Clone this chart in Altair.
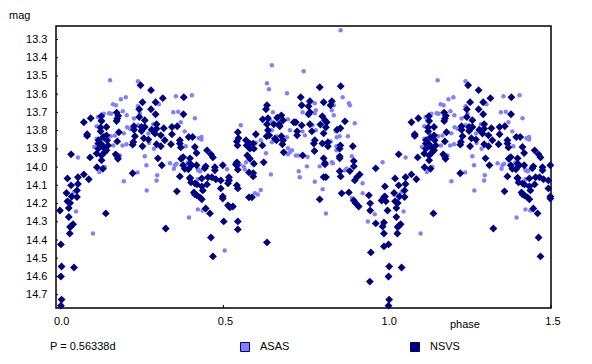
import altair as alt
import pandas as pd

FONT = "Liberation Sans"
W, H = 495, 282

# (phase, magnitude) for one folded cycle; phases up to 0.5 recur at phase + 1
nsvs = [
(.074,13.754),(.095,13.732),(.127,13.721),(.128,13.747),(.143,13.780),(.125,13.783),(.125,13.804),(.084,13.820),(.084,13.829),
(.119,13.853),(.133,13.835),(.143,13.826),(.145,13.853),(.118,13.871),(.128,13.875),(.148,13.881),(.118,13.899),(.133,13.890),
(.143,13.908),(.113,13.926),(.128,13.936),(.138,13.917),(.128,13.963),(.171,13.930),(.176,13.941),(.178,13.954),(.035,13.930),
(.093,13.947),(.114,14.001),(.132,14.009),(.024,14.062),(.056,14.056),(.074,14.040),(.089,14.067),(.174,13.701),(.179,13.719),
(.176,13.734),(.174,13.747),(.243,13.683),(.253,13.644),(.247,13.551),(.279,13.578),(.293,13.644),(.315,13.622),(.279,13.683),
(.293,13.710),(.243,13.725),(.260,13.743),(.296,13.765),(.176,13.859),(.181,13.809),(.227,13.776),(.227,13.795),(.250,13.780),
(.260,13.780),(.250,13.802),(.257,13.842),(.230,13.831),(.225,13.862),(.223,13.877),(.253,13.886),(.271,13.849),(.281,13.795),
(.296,13.789),(.291,13.816),(.309,13.826),(.318,13.787),(.343,13.780),(.359,13.776),(.343,13.820),(.321,13.853),(.296,13.875),
(.309,13.886),(.340,13.875),(.300,13.952),(.312,13.990),(.223,14.034),(.367,14.051),(.367,13.853),(.367,13.871),(.394,13.835),
(.406,13.835),(.413,13.890),(.371,13.954),(.377,13.945),(.398,13.952),(.418,13.923),(.378,13.710),(.379,13.617),(.377,13.990),
(.382,14.009),(.398,13.981),(.403,13.990),(.418,13.990),(.393,14.012),(.398,14.058),
(.001,14.238),(.021,14.142),(.037,14.161),(.053,14.164),(.053,14.128),(.056,14.093),(.035,14.100),(.024,14.188),(.032,14.197),
(.028,14.225),(.028,14.274),(.041,14.313),(.035,14.324),(.032,14.329),(.031,14.364),(.004,14.424),(.006,14.545),(.044,14.551),
(.004,14.600),(.006,14.727),(.004,14.760),(.141,14.254),(.324,14.337),(.358,14.133),(.450,13.908),(.462,13.930),(.468,13.947),
(.446,13.996),(.443,14.007),(.474,14.001),(.474,14.018),(.498,13.990),(.538,13.985),(.398,14.062),(.401,14.084),(.413,14.089),
(.419,14.095),(.434,14.062),(.453,14.056),(.465,14.056),(.477,14.067),(.492,14.073),(.517,14.056),(.517,14.073),(.514,14.089),
(.450,14.095),(.434,14.106),(.437,14.128),(.492,14.117),(.410,14.139),(.413,14.150),(.419,14.155),(.428,14.166),(.434,14.177),
(.498,14.161),(.498,14.172),(.514,14.210),(.520,14.221),(.529,14.216),(.446,14.227),(.459,14.254),(.501,14.298),(.462,14.386),
(.468,14.490),(.370,13.892),(.544,14.298),(.544,14.342),(.633,14.413),
(.541,13.974),(.541,13.990),(.544,14.014),(.544,13.809),(.546,13.842),(.541,13.859),(.543,13.881),(.599,13.820),(.569,13.853),
(.571,13.881),(.581,13.871),(.591,13.871),(.581,13.899),(.593,13.899),(.573,13.936),(.581,13.954),(.593,13.981),(.619,13.881),
(.623,13.974),(.578,14.029),(.591,14.033),(.591,14.051),(.630,13.683),(.633,13.661),(.620,13.738),(.636,13.732),(.633,13.765),
(.636,13.798),(.632,13.831),(.640,13.826),(.654,13.765),(.664,13.729),(.677,13.716),(.670,13.765),(.682,13.743),(.672,13.776),
(.657,13.844),(.662,13.853),(.677,13.831),(.682,13.853),(.680,13.875),(.684,13.919),(.715,13.754),(.721,13.754),(.739,13.771),
(.725,13.804),(.725,13.826),(.736,13.617),(.739,13.661),(.764,13.639),(.760,13.666),(.764,13.699),(.760,13.710),(.764,13.765),
(.770,13.804),(.779,13.853),(.776,13.871),(.778,13.912),(.742,13.936),(.806,13.644),(.794,13.562),(.858,13.556),(.831,13.639),
(.827,13.661),(.802,13.721),(.810,13.743),(.796,13.767),(.815,13.754),(.813,13.782),(.806,13.815),(.802,13.870),(.819,13.864),
(.819,13.886),(.871,13.749),(.857,13.787),(.847,13.795),(.857,13.881),(.855,13.899),(.855,13.941),(.855,13.952),(.806,13.952),
(.810,13.978),(.810,13.985),(.895,13.886),(.898,13.967),(.898,13.996),(.855,14.023),(.886,14.022),(.858,14.051),(.806,14.055),
(.813,14.055),(.916,14.040),(.908,14.055),(.901,14.073),(.965,14.007),
(.541,14.100),(.544,14.117),(.578,14.166),(.587,14.166),(.794,14.177),(.861,14.144),(.883,14.139),(.944,14.155),(.898,14.183),
(.904,14.199),(.913,14.216),(.948,14.199),(.948,14.238),(.993,14.106),(.993,14.161),(.983,14.183),(.996,14.188),(.990,14.304),
(.986,14.326),(.990,14.364),(.965,14.309),(.990,14.435),(.950,14.468),(.947,14.628),(.990,14.165),
]

asas = [
(.154,13.523),(.239,13.529),(.355,13.611),(.404,13.606),(.202,13.617),(.187,13.628),(.163,13.655),(.172,13.661),(.193,13.694),
(.205,13.716),(.239,13.666),(.245,13.707),(.151,13.705),(.135,13.707),(.157,13.707),(.117,13.725),(.113,13.776),(.123,13.783),
(.169,13.827),(.196,13.815),(.206,13.782),(.215,13.789),(.227,13.734),(.240,13.771),(.192,13.881),(.204,13.875),(.164,13.881),
(.106,13.890),(.113,13.844),(.056,13.947),(.260,13.941),(.265,13.990),(.121,14.027),(.138,14.000),(.238,14.029),(.196,14.078),
(.298,14.045),(.296,14.073),(.337,13.979),(.349,14.009),(.352,13.990),(.362,13.697),(.347,13.699),(.382,13.804),(.370,13.754),
(.413,13.732),(.425,13.842),(.271,13.816),(.273,13.868),(.288,13.899),(.303,13.655),(.286,13.765),(.247,13.798),(.357,13.981),
(.423,14.018),(.123,13.743),(.156,13.831),(.050,14.243),(.102,14.364),(.266,14.128),(.395,14.276),(.422,14.232),(.437,14.238),
(.504,14.457),(.511,14.012),(.538,13.990),(.428,14.023),(.422,14.012),(.422,14.067),(.440,14.128),(.044,14.137),(.184,13.936),
(.385,13.886),(.391,13.975),
(.648,13.441),(.745,13.474),(.858,13.249),(.633,13.540),(.639,13.573),(.694,13.595),(.864,13.617),(.883,13.650),(.886,13.661),
(.779,13.650),(.782,13.688),(.779,13.705),(.742,13.699),(.651,13.699),(.831,13.688),(.837,13.716),(.837,13.661),(.553,13.771),
(.645,13.749),(.697,13.738),(.703,13.798),(.648,13.798),(.901,13.760),(.880,13.831),(.855,13.831),(.846,13.836),(.843,13.804),
(.772,13.771),(.782,13.798),(.741,13.804),(.749,13.826),(.694,13.836),(.614,13.853),(.648,13.864),(.662,13.831),(.828,13.859),
(.845,13.886),(.845,13.908),(.892,13.941),(.986,13.974),(.697,13.897),(.709,13.908),(.703,13.919),(.697,13.930),(.630,13.924),
(.721,13.936),(.728,13.936),(.755,13.996),(.794,13.996),(.831,13.974),(.834,13.979),(.730,14.023),(.733,14.056),(.645,14.040),
(.569,13.974),(.562,13.996),(.565,14.012),(.550,13.985),(.433,13.835),(.433,13.849),(.430,14.021),(.876,14.009),(.871,14.018),
(.779,14.080),(.757,13.945),(.599,13.867),(.596,14.144),(.605,14.150),(.614,14.126),(.803,14.122),(.813,14.254),(.925,14.089),
(.925,14.144),(.892,14.170),(.962,14.259),(.941,14.298),
]

y_ticks = [13.3, 13.4, 13.5, 13.6, 13.7, 13.8, 13.9, 14.0, 14.1, 14.2, 14.3, 14.4, 14.5, 14.6, 14.7]
x_ticks = [0.0, 0.5, 1.0, 1.5]


def folded(points):
    rows = list(points) + [(p + 1, m) for p, m in points if p <= 0.5]
    return pd.DataFrame(rows, columns=["phase", "mag"])


x_scale = alt.Scale(domain=[-0.011, 1.5], nice=False, zero=False)
y_scale = alt.Scale(domain=[14.773, 13.226], nice=False, zero=False)
x_enc = alt.X("phase:Q", scale=x_scale, axis=alt.Axis(
    values=x_ticks, format=".1f", title=None, grid=False, domain=False, ticks=False,
    labelFont=FONT, labelFontSize=11, labelColor="#000", labelPadding=7, labelFlush=False,
    labelOverlap=False, labelOffset=1.5))
y_enc = alt.Y("mag:Q", scale=y_scale, axis=alt.Axis(
    values=y_ticks, format=".1f", title=None, grid=False, domain=False, ticks=False,
    labelFont=FONT, labelFontSize=11, labelColor="#000", labelPadding=9, labelOverlap=False))

asas_layer = alt.Chart(folded(asas)).mark_point(
    shape="circle", filled=True, size=20, color="#8080FF", opacity=1).encode(x=x_enc, y=y_enc)
nsvs_layer = alt.Chart(folded(nsvs)).mark_point(
    shape="diamond", filled=True, size=62, color="#000080", opacity=1).encode(x=x_enc, y=y_enc)

xt = alt.Chart(pd.DataFrame({"phase": x_ticks[1:]})).mark_rule(color="#000").encode(
    x=x_enc, y=alt.value(H), y2=alt.value(H - 3))
yt = alt.Chart(pd.DataFrame({"mag": y_ticks})).mark_rule(color="#000").encode(
    y=y_enc, x=alt.value(0), x2=alt.value(2))


def text(s, x, y):
    return alt.Chart(alt.Data(values=[{}])).mark_text(
        text=s, font=FONT, fontSize=11, color="#000", align="left", baseline="alphabetic"
    ).encode(x=alt.value(x), y=alt.value(y))


def swatch(x, fill):
    return alt.Chart(alt.Data(values=[{}])).mark_point(
        shape="square", filled=True, size=81, fill=fill, stroke="#000080", strokeWidth=1, opacity=1
    ).encode(x=alt.value(x), y=alt.value(321))


chart = alt.layer(
    asas_layer, nsvs_layer, xt, yt,
    text("mag", -47, -7), text("phase", 394, 302), text("P = 0.56338d", -6, 324),
    swatch(189, "#8080FF"), text("ASAS", 204, 324),
    swatch(359, "#000080"), text("NSVS", 374, 324),
).resolve_scale(x="shared", y="shared").properties(
    width=W, height=H,
    background="white",
    padding={"left": 48, "top": 18, "right": 33, "bottom": 48},
    autosize=alt.AutoSizeParams(type="none"),
).configure_view(stroke="#000", strokeWidth=1.5, fill="white")

chart.save("out.html", embed_options={"renderer": "svg", "actions": False})
